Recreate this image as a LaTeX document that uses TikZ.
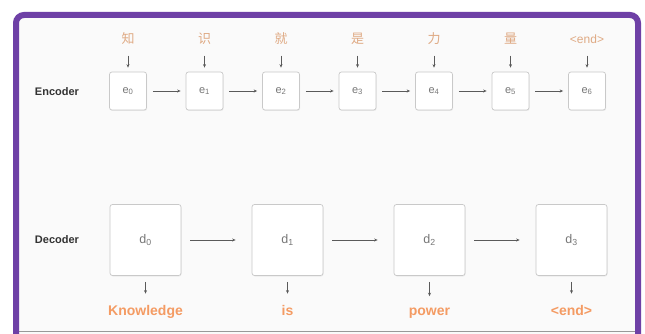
\documentclass[tikz,border=0pt]{standalone}
\usepackage{fontspec}
\setmainfont{Liberation Sans}
\newfontfamily\cjk{Noto Sans CJK SC}
\usetikzlibrary{arrows.meta,shadows}
\definecolor{framepurple}{HTML}{6E40A6}
\definecolor{boxgray}{HTML}{C9C9C9}
\definecolor{txtgray}{HTML}{777777}
\definecolor{arrgray}{HTML}{5A5A5A}
\definecolor{intan}{HTML}{DFAA84}
\definecolor{outorange}{HTML}{F49B63}
\definecolor{lblgray}{HTML}{333333}
\begin{document}
\begin{tikzpicture}[x=1pt,y=-1pt,
  ebox/.style={draw=boxgray, fill=white, rounded corners=2.5pt, line width=0.7pt,
    minimum width=37pt, minimum height=38pt, inner sep=0pt,
    font=\fontsize{11}{13}\selectfont, text=txtgray,
    drop shadow={shadow xshift=0.6pt, shadow yshift=-1pt, opacity=0.12}},
  dbox/.style={ebox, minimum width=71pt, minimum height=71pt, font=\fontsize{12.5}{14}\selectfont},
  inlbl/.style={inner sep=0pt, text height=9pt, text depth=2pt, text=intan, font=\fontsize{13}{15}\selectfont},
  outlbl/.style={inner sep=0pt, anchor=base, text=outorange, font=\fontsize{14}{16}\selectfont\bfseries},
  rowlbl/.style={inner sep=0pt, text=lblgray, font=\fontsize{11}{13}\selectfont\bfseries},
  flow/.style={-{Stealth[length=3.5pt,width=3pt]}, draw=arrgray, line width=0.6pt}
]
\clip (0,0) rectangle (645,334);
\useasboundingbox (0,0) rectangle (645,334);
\fill[white] (0,0) rectangle (645,334);
% frame
\fill[white!98!black] (16,15) rectangle (638,334);
\draw[black!40, line width=1.5pt] (19,331.5) -- (635,331.5);
\draw[framepurple, line width=6pt, rounded corners=8pt] (16,345) -- (16,15) -- (638,15) -- (638,345);

% row labels
\node[rowlbl] (enc) at (57,92) {Encoder};
\node[rowlbl] (dec) at (57,240) {Decoder};

% encoder
\foreach \i/\x/\w in {0/128/{\cjk 知},1/204.5/{\cjk 识},2/281/{\cjk 就},3/357.5/{\cjk 是},4/434/{\cjk 力},5/510.5/{\cjk 量},6/587/{\fontsize{12}{14}\selectfont<end>}} {
  \node[ebox] (e\i) at (\x,91) {e\textsubscript{\i}};
  \node[inlbl] (w\i) at (\x,40) {\w};
  \draw[flow, shorten <=10pt, shorten >=4pt] (w\i) -- (e\i);
}
\foreach \a/\b in {0/1,1/2,2/3,3/4,4/5,5/6} {
  \draw[flow, shorten <=6pt, shorten >=5pt] (e\a) -- (e\b);
}

% decoder
\foreach \i/\x/\w in {0/145.5/Knowledge,1/287.5/is,2/429.5/power,3/571.5/<end>} {
  \node[dbox] (d\i) at (\x,240) {d\textsubscript{\i}};
  \node[outlbl] (o\i) at (\x,315) {\w};
  \draw[flow, shorten <=6pt, shorten >=11pt] (d\i) -- (o\i);
}
\foreach \a/\b in {0/1,1/2,2/3} {
  \draw[flow, shorten <=9pt, shorten >=16pt] (d\a) -- (d\b);
}
\end{tikzpicture}
\end{document}
